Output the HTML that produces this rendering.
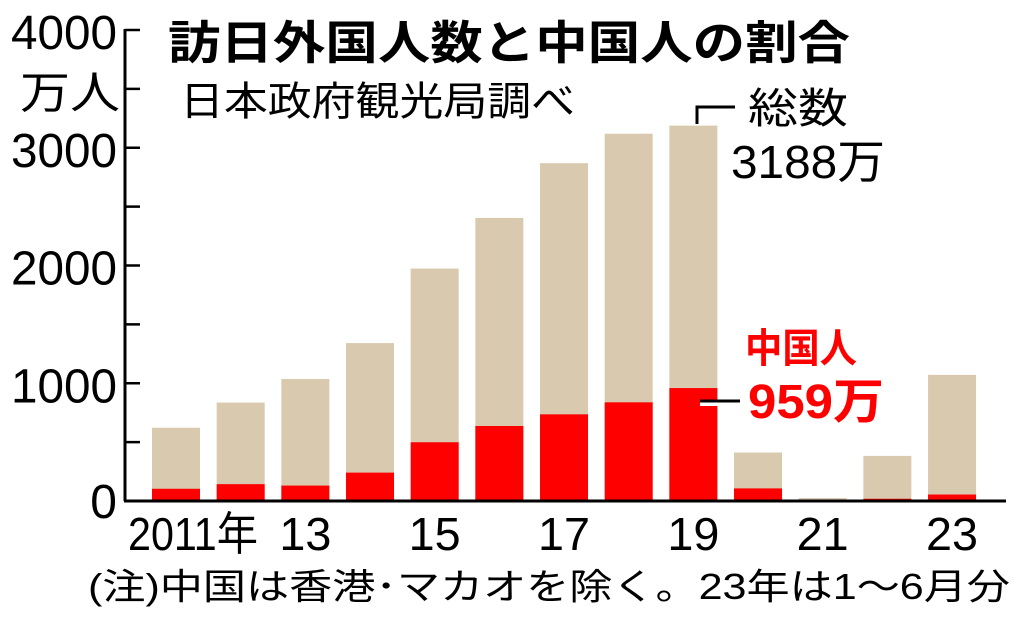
<!DOCTYPE html>
<html><head><meta charset="utf-8"><style>
body{margin:0;background:#fff}
svg text{font-family:"Liberation Sans","Noto Sans CJK JP",sans-serif}
</style></head><body>
<svg width="1024" height="613" viewBox="0 0 1024 613">
<g id="bars"></g>
<g id="axis"></g>
<text x="168" y="59" font-size="46" font-weight="bold" fill="#000" textLength="682" lengthAdjust="spacingAndGlyphs">訪日外国人数と中国人の割合</text>
<text x="180" y="115" font-size="40" fill="#000" textLength="395" lengthAdjust="spacingAndGlyphs">日本政府観光局調べ</text>
<text x="20" y="108" font-size="44" fill="#000" textLength="100" lengthAdjust="spacingAndGlyphs">万人</text>
<text x="748" y="123" font-size="42" fill="#000" textLength="100" lengthAdjust="spacingAndGlyphs">総数</text>
<text x="731" y="178" font-size="46" fill="#000" textLength="154" lengthAdjust="spacingAndGlyphs">3188万</text>
<path d="M697 124 V107 H735" stroke="#000" stroke-width="3" fill="none"/>
<text x="745" y="362" font-size="40" font-weight="bold" fill="#f00" textLength="112" lengthAdjust="spacingAndGlyphs">中国人</text>
<text x="748" y="418" font-size="48" font-weight="bold" fill="#f00" textLength="136" lengthAdjust="spacingAndGlyphs">959万</text>
<path d="M700 404 H740" stroke="#fff" stroke-width="4"/>
<path d="M700 401 H740" stroke="#000" stroke-width="3"/>
<text x="88" y="599" font-size="36" fill="#000" textLength="922" lengthAdjust="spacingAndGlyphs">(注)中国は香港･マカオを除く。23年は1～6月分</text>
<script>
const years=["2011","2012","2013","2014","2015","2016","2017","2018","2019","2020","2021","2022","2023"];
const totals=[622,836,1036,1341,1974,2404,2869,3119,3188,412,25,383,1071];
const china=[104,143,131,241,499,637,736,838,959,107,4,19,55];
const yTicks=[0,1000,2000,3000,4000];
const xLabels={"2011":"2011年","2013":"13","2015":"15","2017":"17","2019":"19","2021":"21","2023":"23"};
const NS="http://www.w3.org/2000/svg";
const y=v=>501-v*0.11775;
const xc=i=>176+i*64.67;
const bw=48;
const bars=document.getElementById('bars'),ax=document.getElementById('axis');
function mk(tag,attrs,parent){const e=document.createElementNS(NS,tag);for(const k in attrs)e.setAttribute(k,attrs[k]);parent.appendChild(e);return e;}
years.forEach((yr,i)=>{
 let r=mk('rect',{x:xc(i)-bw/2,y:y(totals[i]),width:bw,height:y(0)-y(totals[i]),fill:'#d9c9ae'},bars);
 
 
 let c=mk('rect',{x:xc(i)-bw/2,y:y(china[i]),width:bw,height:y(0)-y(china[i]),fill:'#ff0000'},bars);
 
 
 if(xLabels[yr]){
  const isFirst=yr==="2011";
  let t=mk('text',{x:isFirst?128:xc(i),y:550,'font-size':46,'text-anchor':isFirst?'start':'middle',fill:'#000'},ax);
  if(isFirst){t.setAttribute('textLength',130);t.setAttribute('lengthAdjust','spacingAndGlyphs');}
  else{t.setAttribute('textLength',52);t.setAttribute('lengthAdjust','spacingAndGlyphs');}
  t.textContent=xLabels[yr];
  
  
 }
});
let axl=mk('line',{x1:125,y1:29,x2:125,y2:501,stroke:'#000','stroke-width':3},ax);


let bl=mk('line',{x1:124,y1:501,x2:1006,y2:501,stroke:'#000','stroke-width':3},ax);


for(let v=500;v<=4000;v+=500){
 let tk=mk('line',{x1:125,y1:y(v),x2:140,y2:y(v),stroke:'#000','stroke-width':2.5},ax);
 
 
}
yTicks.forEach(v=>{
 let t=mk('text',{x:117,y:y(v)+(v===0?17:19),'font-size':48,'text-anchor':'end',fill:'#000'},ax);
 if(v>0){t.setAttribute('textLength',106);t.setAttribute('lengthAdjust','spacingAndGlyphs');}
 t.textContent=v;
 
 
});
</script>
</svg>
</body></html>
